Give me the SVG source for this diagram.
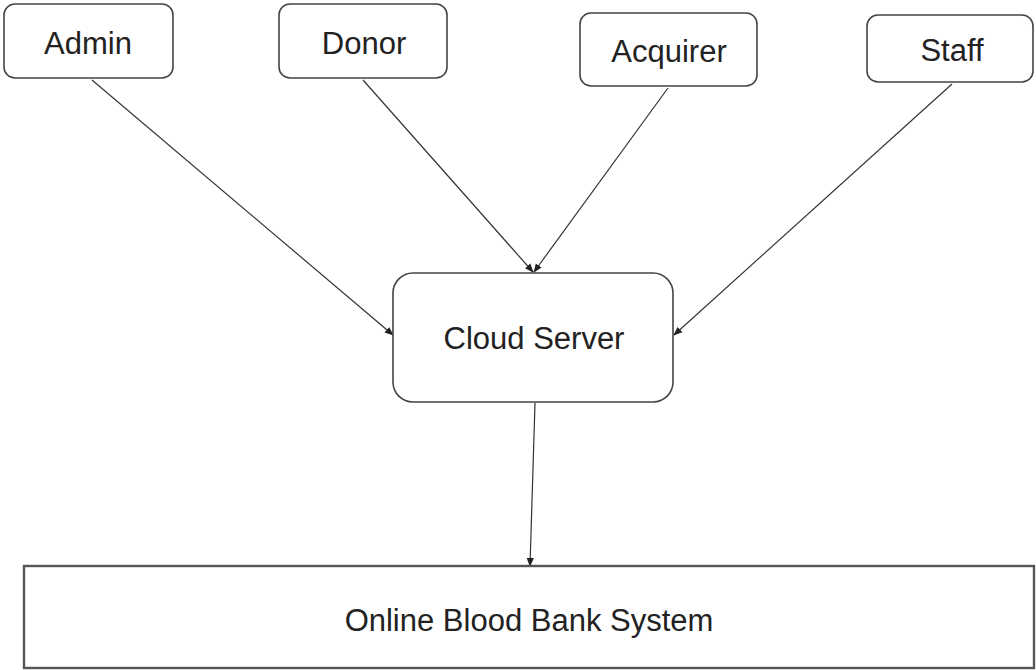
<svg xmlns="http://www.w3.org/2000/svg" width="1036" height="670" viewBox="0 0 1036 670">
  <style>
    .box { fill: #ffffff; stroke: #444444; stroke-width: 1.6; }
    .base { fill: #ffffff; stroke: #555555; stroke-width: 2.4; }
    .label { font-family: "Liberation Sans", Arial, sans-serif; font-size: 31px; fill: #222222; text-anchor: middle; dominant-baseline: central; }
    .edge { fill: none; stroke: #333333; stroke-width: 1.2; marker-end: url(#arrow); }
  </style>
  <defs>
    <marker id="arrow" viewBox="0 0 10 10" refX="9" refY="5" markerWidth="9" markerHeight="9" markerUnits="userSpaceOnUse" orient="auto">
      <path d="M0,1 L10,5 L0,9 z" fill="#222222"/>
    </marker>
  </defs>
  <rect width="1036" height="670" fill="#ffffff"/>

  <g id="connectors">
    <line class="edge" x1="92" y1="80" x2="393" y2="335"/>
    <line class="edge" x1="363" y1="80" x2="533" y2="272"/>
    <line class="edge" x1="668" y1="88" x2="534" y2="272"/>
    <line class="edge" x1="952" y1="84" x2="674" y2="335"/>
    <line class="edge" x1="535" y1="403" x2="530" y2="566"/>
  </g>

  <g id="admin">
    <rect class="box" x="4" y="4" width="169" height="74" rx="11"/>
    <text class="label" x="88" y="43">Admin</text>
  </g>
  <g id="donor">
    <rect class="box" x="279" y="4" width="168" height="74" rx="11"/>
    <text class="label" x="364" y="43">Donor</text>
  </g>
  <g id="acquirer">
    <rect class="box" x="580" y="13" width="177" height="73" rx="11"/>
    <text class="label" x="669" y="51">Acquirer</text>
  </g>
  <g id="staff">
    <rect class="box" x="867" y="15" width="166" height="67" rx="11"/>
    <text class="label" x="952" y="50">Staff</text>
  </g>
  <g id="cloud-server">
    <rect class="box" x="393" y="273" width="280" height="129" rx="20"/>
    <text class="label" x="534" y="338">Cloud Server</text>
  </g>
  <g id="online-blood-bank-system">
    <rect class="base" x="24" y="566" width="1010" height="102"/>
    <text class="label" x="529" y="620">Online Blood Bank System</text>
  </g>
</svg>
